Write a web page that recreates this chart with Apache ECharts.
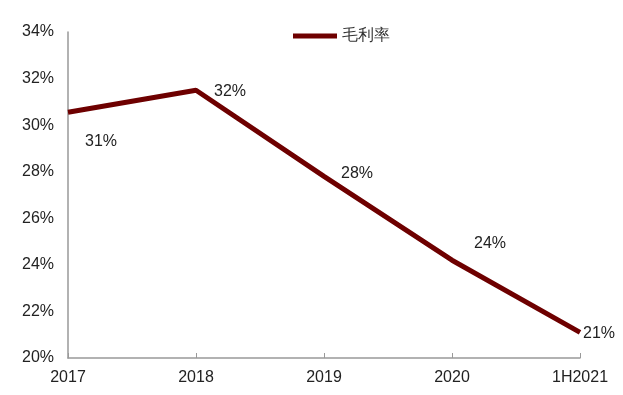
<!DOCTYPE html>
<html><head><meta charset="utf-8">
<script src="https://cdn.jsdelivr.net/npm/echarts@6/dist/echarts.min.js"></script>
<style>html,body{margin:0;padding:0;background:#fff}#c{width:623px;height:395px}</style>
</head><body><div id="c"></div>
<script>
var categories = ['2017', '2018', '2019', '2020', '1H2021'];
var grossMargin = [30.55, 31.5, 27.8, 24.2, 21.1];
var labelText = ['31%', '32%', '28%', '24%', '21%'];
var labelOffsets = [[33, 29], [34, 1], [33, -3], [38, -17], [19, 1]];
var seriesName = '毛利率';

var chart = echarts.init(document.getElementById('c'));
var font = 'Liberation Sans, Arial, sans-serif';
chart.setOption({
  animation: false,
  grid: {left: 68, right: 43, top: 32, bottom: 37},
  legend: {
    data: [seriesName], top: 23, left: 288,
    itemWidth: 44, itemHeight: 5, itemGap: 3,
    icon: 'rect',
    textStyle: {fontSize: 16, color: '#333', fontFamily: font}
  },
  xAxis: {
    type: 'category', data: categories, boundaryGap: false,
    axisLine: {lineStyle: {color: '#999', width: 1.5}},
    axisTick: {inside: true, length: 5, lineStyle: {color: '#999'}},
    axisLabel: {fontSize: 16, color: '#222', margin: 12, fontFamily: font}
  },
  yAxis: {
    type: 'value', min: 20, max: 34, interval: 2,
    axisLine: {show: true, lineStyle: {color: '#999', width: 1.5}},
    axisTick: {show: false},
    splitLine: {show: false},
    axisLabel: {fontSize: 16, color: '#222', margin: 14, fontFamily: font, formatter: '{value}%'}
  },
  series: [{
    name: seriesName, type: 'line',
    data: grossMargin.map(function (v, i) {
      return {value: v, label: {offset: labelOffsets[i]}};
    }),
    symbol: 'circle', symbolSize: 0.1, showSymbol: true,
    lineStyle: {color: '#6e0000', width: 5},
    itemStyle: {color: '#6e0000'},
    label: {
      show: true, position: 'inside', fontSize: 16, color: '#222', fontFamily: font,
      formatter: function (p) { return labelText[p.dataIndex]; }
    }
  }]
});
</script></body></html>
